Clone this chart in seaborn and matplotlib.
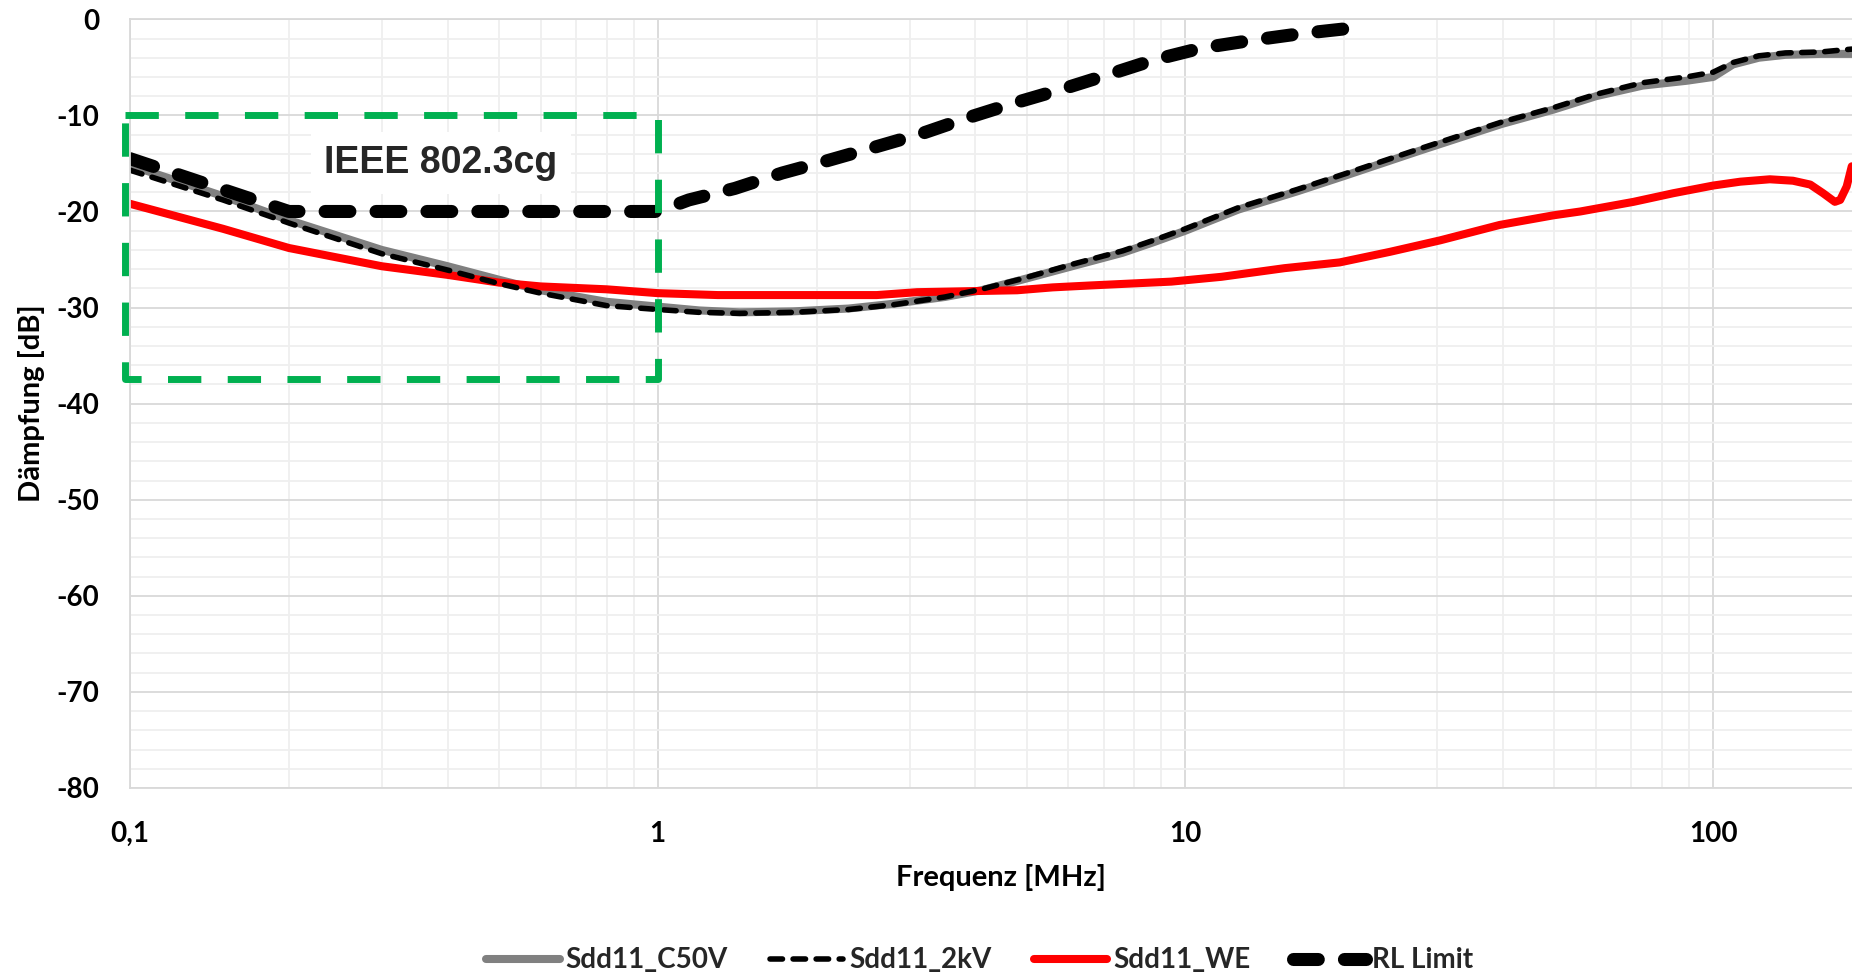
import matplotlib
matplotlib.use("Agg")
import numpy as np
import pandas as pd
import matplotlib.pyplot as plt
from matplotlib.ticker import NullFormatter
import seaborn as sns

# ---------------- data ----------------
FREQ_C50V = [0.1, 0.15, 0.2, 0.3, 0.4, 0.5, 0.6, 0.8, 1.0, 1.2, 1.43, 1.8, 2.3, 2.8,
             3.5, 4.1, 4.9, 6.1, 7.6, 8.7, 10, 12.6, 16.3, 20, 27.7, 39.7, 49.8, 60,
             73.5, 89, 100, 109, 122, 137, 160, 183]
SDD11_C50V = [-15.2, -18.4, -20.9, -24.0, -25.7, -27.1, -28.2, -29.4, -29.9, -30.3, -30.5,
              -30.4, -30.1, -29.6, -28.9, -28.2, -27.1, -25.7, -24.3, -23.2, -22.0, -19.8,
              -17.9, -16.3, -13.7, -10.9, -9.4, -8.0, -6.9, -6.4, -6.0, -4.7, -4.0, -3.7,
              -3.6, -3.6]

FREQ_2KV = [0.1, 0.15, 0.2, 0.3, 0.4, 0.5, 0.6, 0.8, 1.0, 1.2, 1.43, 1.8, 2.3, 2.8,
            3.5, 4.1, 4.9, 6.1, 7.6, 8.7, 10, 12.6, 16.3, 20, 27.7, 39.7, 49.8, 60,
            73.5, 89, 100, 109, 122, 137, 160, 183]
SDD11_2KV = [-15.7, -18.8, -21.2, -24.4, -26.1, -27.5, -28.5, -29.8, -30.2, -30.5, -30.6,
             -30.5, -30.2, -29.7, -28.9, -28.1, -27.0, -25.5, -24.1, -23.0, -21.8, -19.6,
             -17.7, -16.1, -13.5, -10.7, -9.2, -7.8, -6.6, -6.0, -5.5, -4.5, -3.8, -3.5,
             -3.4, -3.1]

FREQ_WE = [0.1, 0.15, 0.2, 0.3, 0.4, 0.5, 0.6, 0.8, 1.0, 1.3, 2.6, 3.1, 4.8, 5.6, 6.6,
           9.4, 11.7, 15.4, 19.6, 24.4, 30.4, 39.4, 49.8, 56, 70.6, 84, 100, 112.5, 128,
           141.6, 152.7, 161.5, 170, 174, 179, 183]
SDD11_WE = [-19.2, -21.8, -23.8, -25.7, -26.6, -27.4, -27.8, -28.1, -28.5, -28.7, -28.7,
            -28.4, -28.2, -27.9, -27.7, -27.3, -26.8, -25.9, -25.3, -24.2, -23.0, -21.4,
            -20.4, -20.0, -19.0, -18.1, -17.3, -16.9, -16.65, -16.8, -17.2, -18.1, -19.0,
            -18.8, -17.4, -15.3]

FREQ_RL = [0.1, 0.2, 1.0, 1.145, 1.4, 1.72, 2.1, 2.58, 3.16, 3.89, 4.75, 5.81, 7.1, 8.75,
           10.7, 13.3, 16.5, 20]
RL_LIMIT = [-14.5, -20.0, -20.0, -18.8, -17.6, -16.0, -14.7, -13.3, -11.9, -10.2, -8.7,
            -7.3, -5.8, -4.2, -3.0, -2.2, -1.5, -1.0]

SERIES_NAMES = ["Sdd11_C50V", "Sdd11_2kV", "Sdd11_WE", "RL Limit"]

XTICKS = [0.1, 1, 10, 100]
XTICK_LABELS = ["0,1", "1", "10", "100"]
YTICKS = [0, -10, -20, -30, -40, -50, -60, -70, -80]
YTICK_LABELS = ["0", "-10", "-20", "-30", "-40", "-50", "-60", "-70", "-80"]

BOX_FREQ = [0.0978, 1.0]      # IEEE 802.3cg frame (annotation)
BOX_DB = [-37.4, -10.0]
ANNOT_TEXT = "IEEE 802.3cg"
ANNOT_POS = (0.388, -16.0)

# ---------------- style ----------------
sns.set_theme(style="white")
plt.rcParams["font.family"] = ["Lato", "DejaVu Sans"]
plt.rcParams["font.weight"] = "bold"

fig = plt.figure(figsize=(18.52, 9.74), dpi=100)
ax = fig.add_axes([130 / 1852, 1 - 788 / 974, 1 - 130 / 1852, (788 - 19.3) / 974])

sns.lineplot(x=FREQ_C50V, y=SDD11_C50V, ax=ax, color="#808080", linewidth=5.8,
             label=SERIES_NAMES[0], estimator=None, zorder=2.0)
l_c50 = ax.lines[-1]
l_c50.set_solid_capstyle("round")

sns.lineplot(x=FREQ_WE, y=SDD11_WE, ax=ax, color="#FF0000", linewidth=5.8,
             label=SERIES_NAMES[2], estimator=None, zorder=2.1)
l_we = ax.lines[-1]
l_we.set_solid_capstyle("round")

sns.lineplot(x=FREQ_2KV, y=SDD11_2KV, ax=ax, color="black", linewidth=4.0,
             label=SERIES_NAMES[1], estimator=None, zorder=2.2)
l_2kv = ax.lines[-1]
l_2kv.set_dashes((2.25, 1.9))
l_2kv.set_dash_capstyle("round")

sns.lineplot(x=FREQ_RL, y=RL_LIMIT, ax=ax, color="black", linewidth=9.4,
             label=SERIES_NAMES[3], estimator=None, zorder=2.3)
l_rl = ax.lines[-1]
l_rl.set_dashes((1.9, 2.0))
l_rl.set_dash_capstyle("round")

# annotation frame
bx = [BOX_FREQ[0], BOX_FREQ[1], BOX_FREQ[1], BOX_FREQ[0], BOX_FREQ[0]]
by = [BOX_DB[1], BOX_DB[1], BOX_DB[0], BOX_DB[0], BOX_DB[1]]
ax.plot(bx, by, color="#00B050", linewidth=5.0, dashes=(4.8, 3.8),
        clip_on=False, zorder=5, label="_nolegend_")
ax.text(ANNOT_POS[0], ANNOT_POS[1], ANNOT_TEXT, family="Liberation Sans",
        fontweight="bold", fontsize=27, ha="center", va="baseline", zorder=4,
        bbox=dict(boxstyle="square,pad=0.35", fc="white", ec="none"))

# axes
ax.set_xscale("log")
ax.set_xlim(0.1, 183.2)
ax.set_ylim(-80, 0)
ax.set_xticks(XTICKS, labels=XTICK_LABELS)
minor_x = [m * d for d in (0.1, 1, 10, 100) for m in range(2, 10) if m * d < 183]
ax.set_xticks(minor_x, minor=True)
ax.xaxis.set_minor_formatter(NullFormatter())
ax.set_yticks(YTICKS, labels=YTICK_LABELS)
ax.set_yticks(np.arange(-80, 1, 2), minor=True)

ax.grid(which="major", color="#D9D9D9", linewidth=1.3)
ax.grid(which="minor", color="#EFEFEF", linewidth=1.3)
ax.set_axisbelow(True)
for s in ("left", "bottom", "top"):
    ax.spines[s].set_color("#D9D9D9")
    ax.spines[s].set_linewidth(1.3)
ax.spines["right"].set_visible(False)

ax.tick_params(axis="x", which="both", length=0, pad=24, labelsize=20, labelcolor="black")
ax.tick_params(axis="y", which="major", length=7, width=1.3, color="#D9D9D9",
               pad=15, labelsize=20, labelcolor="black")
ax.tick_params(axis="y", which="minor", length=0)
for lab in ax.get_xticklabels() + ax.get_yticklabels():
    lab.set_fontweight("bold")

ax.set_xlabel("Frequenz [MHz]", fontsize=21, fontweight="bold", color="black")
ax.xaxis.label.set_va("center")
ax.xaxis.set_label_coords(0.506, -0.117)
ax.set_ylabel("Dämpfung [dB]", fontsize=21, fontweight="bold", color="black")
ax.yaxis.label.set_va("center")
ax.yaxis.set_label_coords(-0.057, 0.5)

# legend
h, l = ax.get_legend_handles_labels()
order = [l.index(n) for n in SERIES_NAMES]
ax.get_legend().remove()
fig.legend([h[i] for i in order], [l[i] for i in order], loc="center",
           bbox_to_anchor=(0.529, 0.014), ncol=4, frameon=False,
           prop=dict(size=20, weight="bold"), handlelength=2.63,
           handletextpad=0.2, columnspacing=1.55)

fig.savefig("out.png", dpi=100, facecolor="white")
